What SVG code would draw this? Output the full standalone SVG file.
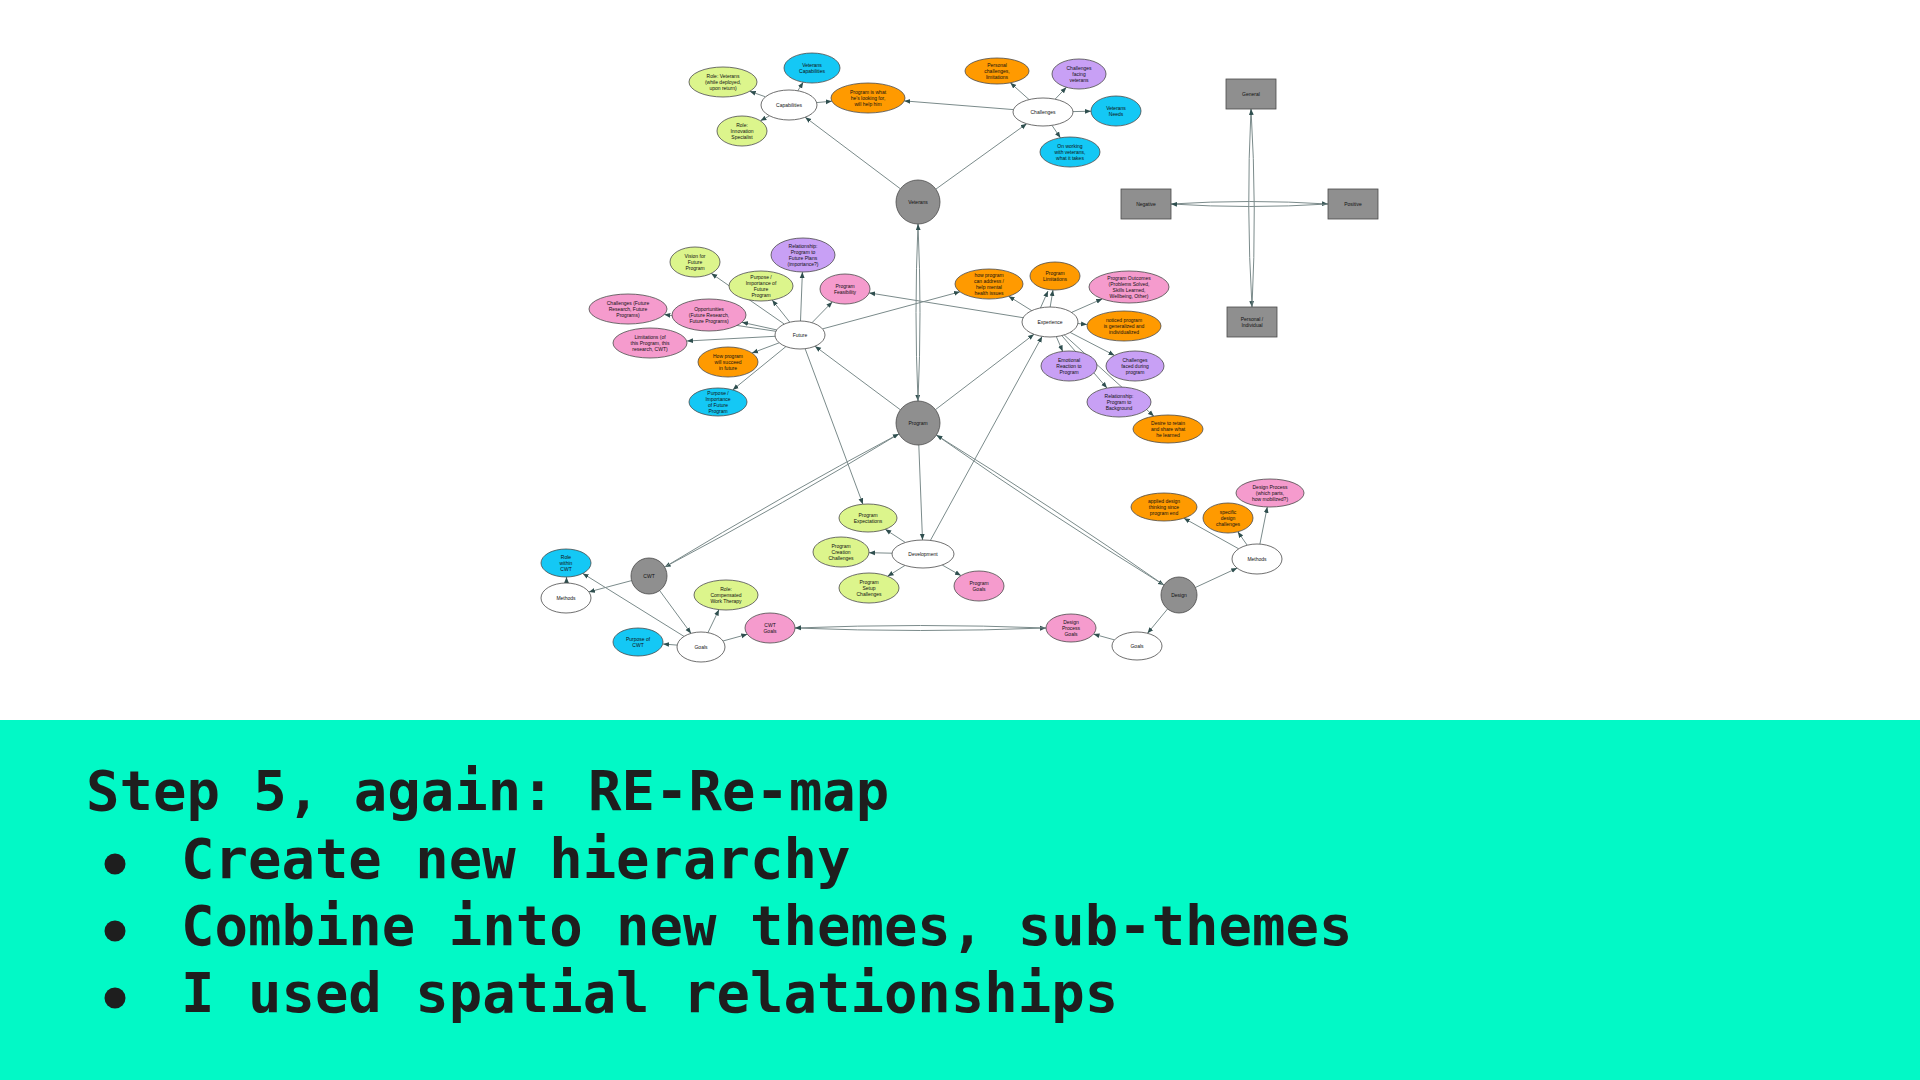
<svg xmlns="http://www.w3.org/2000/svg" width="1920" height="1080" viewBox="0 0 1920 1080">
<style>
.e{stroke:#4a4a4a;stroke-width:0.8}
.w{fill:#ffffff}.lime{fill:#dcf58c}.cyan{fill:#14c8f5}.orange{fill:#ff9a00}.purple{fill:#c8a0f5}.pink{fill:#f59bcd}.gray{fill:#8f8f8f}
.t{font-family:"Liberation Sans",Arial,sans-serif;font-size:5px;fill:#111;text-anchor:middle}
.c{fill:none;stroke:#7b8b8b;stroke-width:1;marker-end:url(#ah)}
.big{font-family:"DejaVu Sans Mono","Liberation Mono",monospace;font-weight:bold;font-size:55.6px;fill:#1e1e1e}
</style>
<defs>
<marker id="ah" markerUnits="userSpaceOnUse" markerWidth="6" markerHeight="6" refX="6" refY="3" orient="auto"><path d="M0,0.6 L6,3 L0,5.4 z" fill="#2f4f4f"/></marker>
</defs>
<rect x="0" y="0" width="1920" height="1080" fill="#ffffff"/>
<rect x="0" y="720" width="1920" height="360" fill="#02f9c6"/>

<g id="connectors">
<path class="c" d="M900.4,188.8 L805.2,117.2"/>
<path class="c" d="M765.5,96.8 L749.7,91.3"/>
<path class="c" d="M797.8,90.8 L803.2,82.2"/>
<path class="c" d="M816.6,102.6 L831.8,101.2"/>
<path class="c" d="M769.5,115.8 L760.4,120.8"/>
<path class="c" d="M1013.4,109.6 L904.3,100.9"/>
<path class="c" d="M935.9,189.1 L1026.7,123.7"/>
<path class="c" d="M1029.1,99.6 L1010.3,82.8"/>
<path class="c" d="M1055.1,99.2 L1066.4,87.3"/>
<path class="c" d="M1073,111.6 L1091,111.2"/>
<path class="c" d="M1052,125.4 L1060.4,137.8"/>
<path class="c" d="M1251,109 Q1246,208 1252,307"/>
<path class="c" d="M1252,307 Q1257,208 1251,109"/>
<path class="c" d="M1171,204 Q1249.5,199 1328,204"/>
<path class="c" d="M1328,204 Q1249.5,209 1171,204"/>
<path class="c" d="M918,224 Q914,312.5 918,401"/>
<path class="c" d="M918,401 Q922,312.5 918,224"/>
<path class="c" d="M784.3,324.1 L711.3,273.4"/>
<path class="c" d="M789.8,322.2 L772.2,300.1"/>
<path class="c" d="M800.5,321 L802.4,272"/>
<path class="c" d="M812,322.7 L832.3,301.9"/>
<path class="c" d="M776.7,329.9 L742,322.3"/>
<path class="c" d="M775.9,331.3 L664.3,314.5"/>
<path class="c" d="M775,336.3 L687,341"/>
<path class="c" d="M779.2,342.8 L752,353"/>
<path class="c" d="M785.9,346.6 L732.7,389.9"/>
<path class="c" d="M822.5,328.9 L960,291.8"/>
<path class="c" d="M1023.2,317.7 L869.2,292.9"/>
<path class="c" d="M900.4,409.8 L815,346.2"/>
<path class="c" d="M805.1,348.7 L862.9,504.2"/>
<path class="c" d="M1031.7,310.6 L1008.6,296.2"/>
<path class="c" d="M1040,309 L1048,291"/>
<path class="c" d="M1050,308 L1053,290"/>
<path class="c" d="M1071.6,312.4 L1102.2,298.9"/>
<path class="c" d="M1078,323.5 L1087,324.5"/>
<path class="c" d="M1056.3,336.6 L1062.7,351.4"/>
<path class="c" d="M1070.1,332.4 L1114.5,355.4"/>
<path class="c" d="M1061.8,335.6 L1107,388.1"/>
<path class="c" d="M1064.2,334.9 L1153.9,416.2"/>
<path class="c" d="M935.5,409.6 L1034,334.3"/>
<path class="c" d="M930.4,540.4 L1042.1,336.4"/>
<path class="c" d="M918.8,445 L922.5,540"/>
<path class="c" d="M898.9,433.9 Q783.7,504 664.6,567.1"/>
<path class="c" d="M664.6,567.1 Q779.8,497 898.9,433.9"/>
<path class="c" d="M936.4,435.1 Q1048,513.4 1164,585.1"/>
<path class="c" d="M1164,585.1 Q1052.4,506.8 936.4,435.1"/>
<path class="c" d="M905.4,542.5 L885.2,529.3"/>
<path class="c" d="M892,553.2 L869,552.7"/>
<path class="c" d="M905,565.4 L887.6,576.3"/>
<path class="c" d="M942.2,565 L960.9,575.6"/>
<path class="c" d="M631.6,580.6 L588.9,591.9"/>
<path class="c" d="M566.5,583 L566.5,577"/>
<path class="c" d="M659.6,590.5 L691,633.4"/>
<path class="c" d="M684,636.4 L582.7,573.4"/>
<path class="c" d="M677,645.1 L663,644"/>
<path class="c" d="M707.9,632.7 L719,609.6"/>
<path class="c" d="M723,641 L747.3,634.3"/>
<path class="c" d="M795,628 Q920.5,633 1046,628"/>
<path class="c" d="M1046,628 Q920.5,623 795,628"/>
<path class="c" d="M1195.3,587.5 L1237.2,568.1"/>
<path class="c" d="M1238.7,548.8 L1183.9,518.2"/>
<path class="c" d="M1247.2,545.2 L1237.8,531.8"/>
<path class="c" d="M1259.9,544.1 L1267.3,506.9"/>
<path class="c" d="M1167.6,608.9 L1147.5,633.3"/>
<path class="c" d="M1114.5,639.9 L1093.5,634.1"/>
</g>

<g id="n-capabilities"><ellipse class="e w" cx="789" cy="105" rx="28" ry="15"/><text class="t" x="789" y="106.8">Capabilities</text></g>
<g id="n-role-veterans"><ellipse class="e lime" cx="723" cy="82" rx="34" ry="15"/><text class="t" x="723" y="78"><tspan x="723">Role: Veterans</tspan><tspan x="723" dy="5.8">(while deployed,</tspan><tspan x="723" dy="5.8">upon return)</tspan></text></g>
<g id="n-veterans-capabilities"><ellipse class="e cyan" cx="812" cy="68" rx="28" ry="15"/><text class="t" x="812" y="66.9"><tspan x="812">Veterans</tspan><tspan x="812" dy="5.8">Capabilities</tspan></text></g>
<g id="n-program-is-what"><ellipse class="e orange" cx="868" cy="98" rx="37" ry="15"/><text class="t" x="868" y="94"><tspan x="868">Program is what</tspan><tspan x="868" dy="5.8">he's looking for,</tspan><tspan x="868" dy="5.8">will help him</tspan></text></g>
<g id="n-role-innovation"><ellipse class="e lime" cx="742" cy="131" rx="25" ry="15"/><text class="t" x="742" y="127"><tspan x="742">Role:</tspan><tspan x="742" dy="5.8">Innovation</tspan><tspan x="742" dy="5.8">Specialist</tspan></text></g>

<g id="n-challenges"><ellipse class="e w" cx="1043" cy="112" rx="30" ry="14"/><text class="t" x="1043" y="113.8">Challenges</text></g>
<g id="n-personal-challenges"><ellipse class="e orange" cx="997" cy="71" rx="32" ry="13"/><text class="t" x="997" y="67"><tspan x="997">Personal</tspan><tspan x="997" dy="5.8">challenges,</tspan><tspan x="997" dy="5.8">limitations</tspan></text></g>
<g id="n-challenges-facing"><ellipse class="e purple" cx="1079" cy="74" rx="27" ry="15"/><text class="t" x="1079" y="70"><tspan x="1079">Challenges</tspan><tspan x="1079" dy="5.8">facing</tspan><tspan x="1079" dy="5.8">veterans</tspan></text></g>
<g id="n-veterans-needs"><ellipse class="e cyan" cx="1116" cy="111" rx="25" ry="15"/><text class="t" x="1116" y="109.9"><tspan x="1116">Veterans</tspan><tspan x="1116" dy="5.8">Needs</tspan></text></g>
<g id="n-on-working"><ellipse class="e cyan" cx="1070" cy="152" rx="30" ry="15"/><text class="t" x="1070" y="148"><tspan x="1070">On working</tspan><tspan x="1070" dy="5.8">with veterans,</tspan><tspan x="1070" dy="5.8">what it takes</tspan></text></g>

<g id="n-general"><rect class="e gray" x="1226" y="79" width="50" height="30"/><text class="t" x="1251" y="95.8">General</text></g>
<g id="n-negative"><rect class="e gray" x="1121" y="189" width="50" height="30"/><text class="t" x="1146" y="205.8">Negative</text></g>
<g id="n-positive"><rect class="e gray" x="1328" y="189" width="50" height="30"/><text class="t" x="1353" y="205.8">Positive</text></g>
<g id="n-personal"><rect class="e gray" x="1227" y="307" width="50" height="30"/><text class="t" x="1252" y="320.9"><tspan x="1252">Personal /</tspan><tspan x="1252" dy="5.8">Individual</tspan></text></g>

<g id="n-veterans"><circle class="e gray" cx="918" cy="202" r="22"/><text class="t" x="918" y="203.8">Veterans</text></g>
<g id="n-program"><circle class="e gray" cx="918" cy="423" r="22"/><text class="t" x="918" y="424.8">Program</text></g>

<g id="n-future"><ellipse class="e w" cx="800" cy="335" rx="25" ry="14"/><text class="t" x="800" y="336.8">Future</text></g>
<g id="n-vision"><ellipse class="e lime" cx="695" cy="262" rx="25" ry="15"/><text class="t" x="695" y="258"><tspan x="695">Vision for</tspan><tspan x="695" dy="5.8">Future</tspan><tspan x="695" dy="5.8">Program</tspan></text></g>
<g id="n-rel-future"><ellipse class="e purple" cx="803" cy="255" rx="32" ry="17"/><text class="t" x="803" y="248.1"><tspan x="803">Relationship:</tspan><tspan x="803" dy="5.8">Program to</tspan><tspan x="803" dy="5.8">Future Plans</tspan><tspan x="803" dy="5.8">(importance?)</tspan></text></g>
<g id="n-purpose-future-lime"><ellipse class="e lime" cx="761" cy="286" rx="32" ry="15"/><text class="t" x="761" y="279.1"><tspan x="761">Purpose /</tspan><tspan x="761" dy="5.8">Importance of</tspan><tspan x="761" dy="5.8">Future</tspan><tspan x="761" dy="5.8">Program</tspan></text></g>
<g id="n-feasibility"><ellipse class="e pink" cx="845" cy="289" rx="25" ry="15"/><text class="t" x="845" y="287.9"><tspan x="845">Program</tspan><tspan x="845" dy="5.8">Feasibility</tspan></text></g>
<g id="n-challenges-future"><ellipse class="e pink" cx="628" cy="309" rx="39" ry="15"/><text class="t" x="628" y="305"><tspan x="628">Challenges (Future</tspan><tspan x="628" dy="5.8">Research, Future</tspan><tspan x="628" dy="5.8">Programs)</tspan></text></g>
<g id="n-opportunities"><ellipse class="e pink" cx="709" cy="315" rx="37" ry="16"/><text class="t" x="709" y="311"><tspan x="709">Opportunities</tspan><tspan x="709" dy="5.8">(Future Research,</tspan><tspan x="709" dy="5.8">Future Programs)</tspan></text></g>
<g id="n-limitations"><ellipse class="e pink" cx="650" cy="343" rx="37" ry="15"/><text class="t" x="650" y="339"><tspan x="650">Limitations (of</tspan><tspan x="650" dy="5.8">this Program, this</tspan><tspan x="650" dy="5.8">research, CWT)</tspan></text></g>
<g id="n-succeed"><ellipse class="e orange" cx="728" cy="362" rx="30" ry="15"/><text class="t" x="728" y="358"><tspan x="728">How program</tspan><tspan x="728" dy="5.8">will succeed</tspan><tspan x="728" dy="5.8">in future</tspan></text></g>
<g id="n-purpose-future-cyan"><ellipse class="e cyan" cx="718" cy="402" rx="29" ry="14"/><text class="t" x="718" y="395.1"><tspan x="718">Purpose /</tspan><tspan x="718" dy="5.8">Importance</tspan><tspan x="718" dy="5.8">of Future</tspan><tspan x="718" dy="5.8">Program</tspan></text></g>

<g id="n-experience"><ellipse class="e w" cx="1050" cy="322" rx="28" ry="15"/><text class="t" x="1050" y="323.8">Experience</text></g>
<g id="n-address"><ellipse class="e orange" cx="989" cy="284" rx="34" ry="15"/><text class="t" x="989" y="277.1"><tspan x="989">how program</tspan><tspan x="989" dy="5.8">can address /</tspan><tspan x="989" dy="5.8">help mental</tspan><tspan x="989" dy="5.8">health issues</tspan></text></g>
<g id="n-program-limitations"><ellipse class="e orange" cx="1055" cy="276" rx="25" ry="14"/><text class="t" x="1055" y="274.9"><tspan x="1055">Program</tspan><tspan x="1055" dy="5.8">Limitations</tspan></text></g>
<g id="n-outcomes"><ellipse class="e pink" cx="1129" cy="287" rx="40" ry="16"/><text class="t" x="1129" y="280.1"><tspan x="1129">Program Outcomes</tspan><tspan x="1129" dy="5.8">(Problems Solved,</tspan><tspan x="1129" dy="5.8">Skills Learned,</tspan><tspan x="1129" dy="5.8">Wellbeing, Other)</tspan></text></g>
<g id="n-noticed"><ellipse class="e orange" cx="1124" cy="326" rx="37" ry="15"/><text class="t" x="1124" y="322"><tspan x="1124">noticed program</tspan><tspan x="1124" dy="5.8">is generalized and</tspan><tspan x="1124" dy="5.8">individualized</tspan></text></g>
<g id="n-emotional"><ellipse class="e purple" cx="1069" cy="366" rx="28" ry="15"/><text class="t" x="1069" y="362"><tspan x="1069">Emotional</tspan><tspan x="1069" dy="5.8">Reaction to</tspan><tspan x="1069" dy="5.8">Program</tspan></text></g>
<g id="n-challenges-during"><ellipse class="e purple" cx="1135" cy="366" rx="29" ry="15"/><text class="t" x="1135" y="362"><tspan x="1135">Challenges</tspan><tspan x="1135" dy="5.8">faced during</tspan><tspan x="1135" dy="5.8">program</tspan></text></g>
<g id="n-rel-background"><ellipse class="e purple" cx="1119" cy="402" rx="32" ry="15"/><text class="t" x="1119" y="398"><tspan x="1119">Relationship:</tspan><tspan x="1119" dy="5.8">Program to</tspan><tspan x="1119" dy="5.8">Background</tspan></text></g>
<g id="n-desire"><ellipse class="e orange" cx="1168" cy="429" rx="35" ry="14"/><text class="t" x="1168" y="425"><tspan x="1168">Desire to retain</tspan><tspan x="1168" dy="5.8">and share what</tspan><tspan x="1168" dy="5.8">he learned</tspan></text></g>

<g id="n-development"><ellipse class="e w" cx="923" cy="554" rx="31" ry="14"/><text class="t" x="923" y="555.8">Development</text></g>
<g id="n-expectations"><ellipse class="e lime" cx="868" cy="518" rx="29" ry="14"/><text class="t" x="868" y="516.9"><tspan x="868">Program</tspan><tspan x="868" dy="5.8">Expectations</tspan></text></g>
<g id="n-creation"><ellipse class="e lime" cx="841" cy="552" rx="28" ry="15"/><text class="t" x="841" y="548"><tspan x="841">Program</tspan><tspan x="841" dy="5.8">Creation</tspan><tspan x="841" dy="5.8">Challenges</tspan></text></g>
<g id="n-setup"><ellipse class="e lime" cx="869" cy="588" rx="30" ry="15"/><text class="t" x="869" y="584"><tspan x="869">Program</tspan><tspan x="869" dy="5.8">Setup</tspan><tspan x="869" dy="5.8">Challenges</tspan></text></g>
<g id="n-program-goals"><ellipse class="e pink" cx="979" cy="586" rx="25" ry="15"/><text class="t" x="979" y="584.9"><tspan x="979">Program</tspan><tspan x="979" dy="5.8">Goals</tspan></text></g>

<g id="n-cwt"><circle class="e gray" cx="649" cy="576" r="18"/><text class="t" x="649" y="577.8">CWT</text></g>
<g id="n-role-cwt"><ellipse class="e cyan" cx="566" cy="563" rx="25" ry="14"/><text class="t" x="566" y="559"><tspan x="566">Role</tspan><tspan x="566" dy="5.8">within</tspan><tspan x="566" dy="5.8">CWT</tspan></text></g>
<g id="n-methods-cwt"><ellipse class="e w" cx="566" cy="598" rx="25" ry="15"/><text class="t" x="566" y="599.8">Methods</text></g>
<g id="n-role-compensated"><ellipse class="e lime" cx="726" cy="595" rx="32" ry="15"/><text class="t" x="726" y="591"><tspan x="726">Role:</tspan><tspan x="726" dy="5.8">Compensated</tspan><tspan x="726" dy="5.8">Work Therapy</tspan></text></g>
<g id="n-cwt-goals"><ellipse class="e pink" cx="770" cy="628" rx="25" ry="15"/><text class="t" x="770" y="626.9"><tspan x="770">CWT</tspan><tspan x="770" dy="5.8">Goals</tspan></text></g>
<g id="n-purpose-cwt"><ellipse class="e cyan" cx="638" cy="642" rx="25" ry="14"/><text class="t" x="638" y="640.9"><tspan x="638">Purpose of</tspan><tspan x="638" dy="5.8">CWT</tspan></text></g>
<g id="n-goals-cwt"><ellipse class="e w" cx="701" cy="647" rx="24" ry="15"/><text class="t" x="701" y="648.8">Goals</text></g>

<g id="n-design"><circle class="e gray" cx="1179" cy="595" r="18"/><text class="t" x="1179" y="596.8">Design</text></g>
<g id="n-applied"><ellipse class="e orange" cx="1164" cy="507" rx="33" ry="14"/><text class="t" x="1164" y="503"><tspan x="1164">applied design</tspan><tspan x="1164" dy="5.8">thinking since</tspan><tspan x="1164" dy="5.8">program end</tspan></text></g>
<g id="n-specific"><ellipse class="e orange" cx="1228" cy="518" rx="25" ry="15"/><text class="t" x="1228" y="514"><tspan x="1228">specific</tspan><tspan x="1228" dy="5.8">design</tspan><tspan x="1228" dy="5.8">challenges</tspan></text></g>
<g id="n-design-process"><ellipse class="e pink" cx="1270" cy="493" rx="34" ry="14"/><text class="t" x="1270" y="489"><tspan x="1270">Design Process</tspan><tspan x="1270" dy="5.8">(which parts,</tspan><tspan x="1270" dy="5.8">how mobilized?)</tspan></text></g>
<g id="n-methods-design"><ellipse class="e w" cx="1257" cy="559" rx="25" ry="15"/><text class="t" x="1257" y="560.8">Methods</text></g>
<g id="n-design-process-goals"><ellipse class="e pink" cx="1071" cy="628" rx="25" ry="14"/><text class="t" x="1071" y="624"><tspan x="1071">Design</tspan><tspan x="1071" dy="5.8">Process</tspan><tspan x="1071" dy="5.8">Goals</tspan></text></g>
<g id="n-goals-design"><ellipse class="e w" cx="1137" cy="646" rx="25" ry="14"/><text class="t" x="1137" y="647.8">Goals</text></g>

<g id="caption">
<text class="big" x="86" y="810">Step 5, again: RE-Re-map</text>
<circle cx="115" cy="864" r="10.5" fill="#1e1e1e"/>
<text class="big" x="181" y="878">Create new hierarchy</text>
<circle cx="115" cy="931" r="10.5" fill="#1e1e1e"/>
<text class="big" x="181" y="945">Combine into new themes, sub-themes</text>
<circle cx="115" cy="998" r="10.5" fill="#1e1e1e"/>
<text class="big" x="181" y="1012">I used spatial relationships</text>
</g>
</svg>
